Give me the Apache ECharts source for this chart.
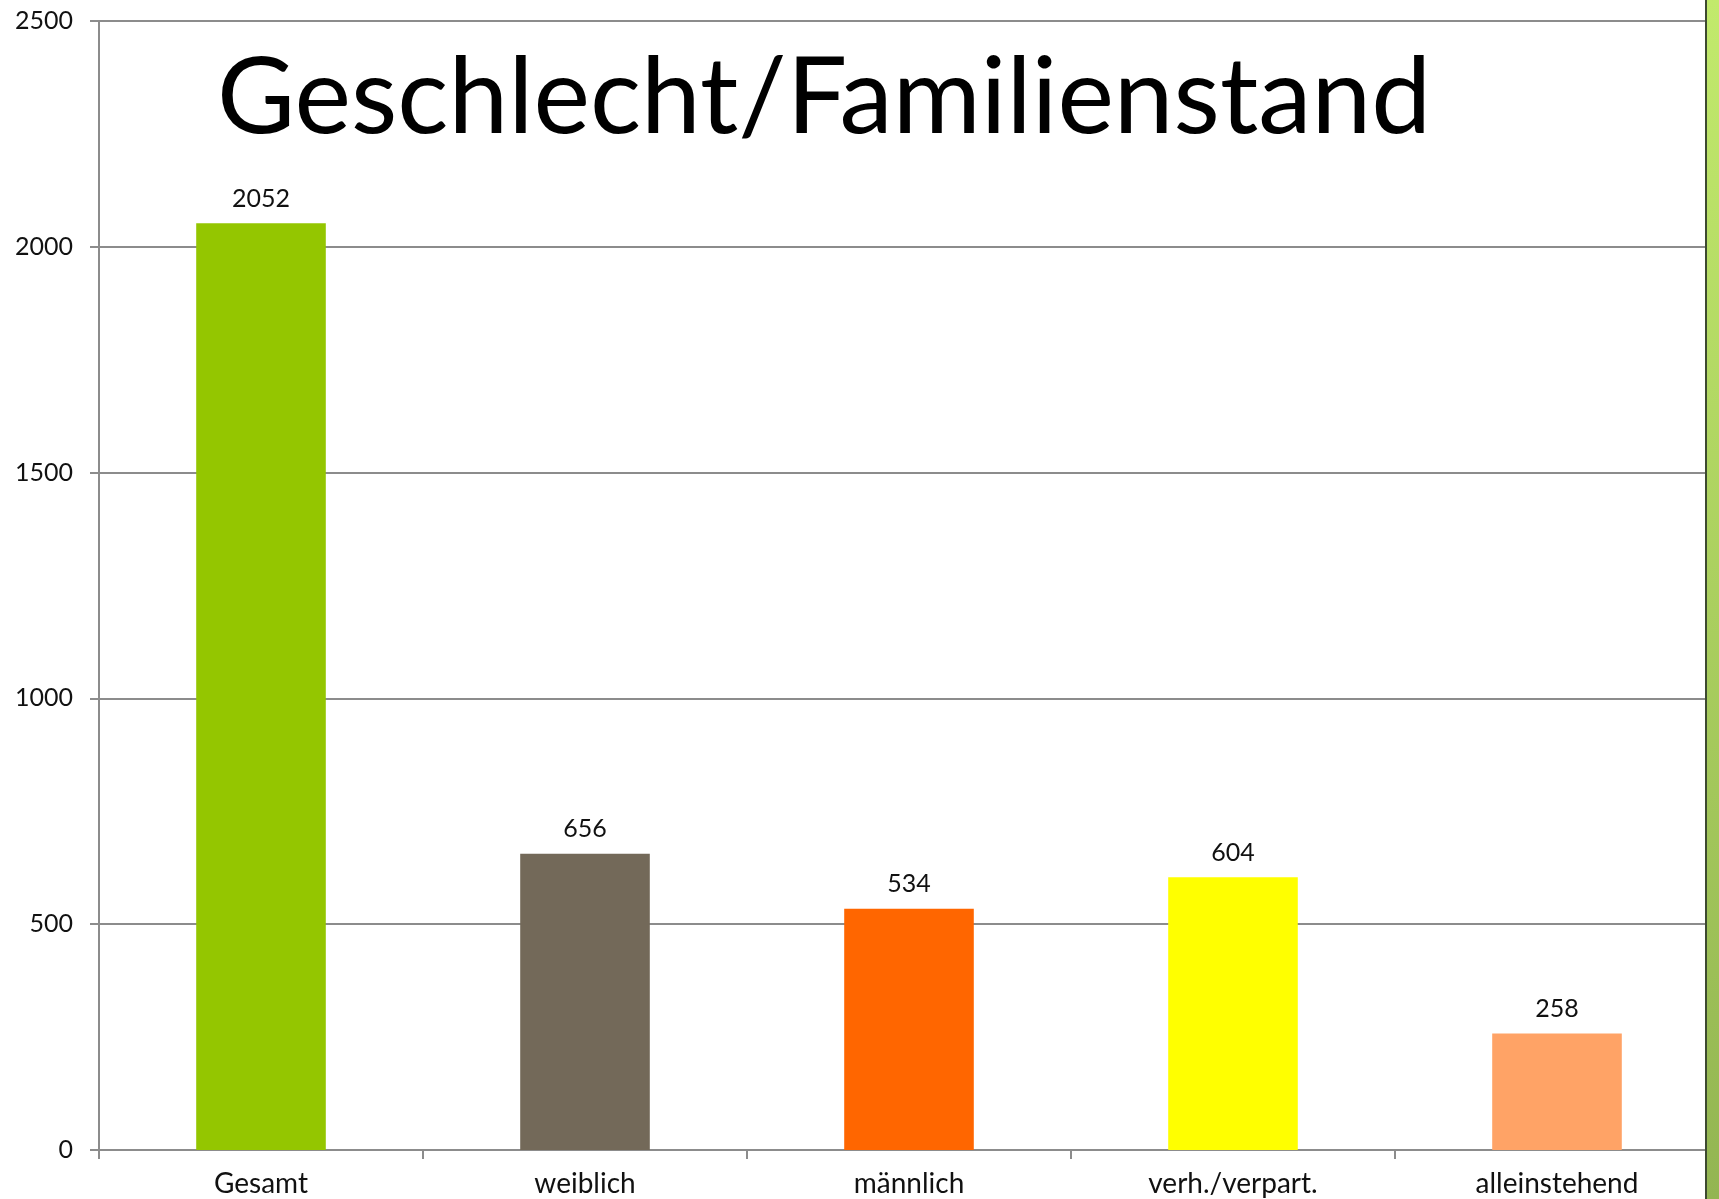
<!DOCTYPE html>
<html>
<head>
<meta charset="utf-8">
<style>html,body{margin:0;padding:0;background:#fff;}#c{width:1719px;height:1199px;}</style>
<script src="https://cdn.jsdelivr.net/npm/echarts@6/dist/echarts.min.js"></script>
</head>
<body>
<div id="c"></div>
<script>
const categories = ['Gesamt', 'weiblich', 'männlich', 'verh./verpart.', 'alleinstehend'];
const values = [2052, 656, 534, 604, 258];
const barColors = ['#94c600', '#736959', '#ff6600', '#ffff00', '#ffa366'];
const titleText = 'Geschlecht/Familienstand';

const FONT = 'Lato, "DejaVu Sans", sans-serif';
const chart = echarts.init(document.getElementById('c'));
chart.setOption({
  backgroundColor: '#ffffff',
  animation: false,
  title: {
    text: titleText,
    left: 212, top: 40,
    textStyle: { fontFamily: FONT, fontWeight: 'normal', fontSize: 107, color: '#000' }
  },
  grid: { left: 99, top: 21, width: 1624, bottom: 49, containLabel: false },
  xAxis: {
    type: 'category',
    data: categories,
    axisLine: { lineStyle: { color: '#8c8c8c', width: 2 } },
    axisTick: { show: true, length: 9, lineStyle: { color: '#8c8c8c', width: 2 } },
    axisLabel: { fontFamily: FONT, fontSize: 28, color: '#111', margin: 20 }
  },
  yAxis: {
    type: 'value', min: 0, max: 2500, interval: 500,
    axisLine: { show: true, lineStyle: { color: '#8c8c8c', width: 2 } },
    axisTick: { show: true, length: 9, lineStyle: { color: '#8c8c8c', width: 2 } },
    axisLabel: { fontFamily: FONT, fontSize: 25, color: '#111', margin: 26, formatter: v => String(v) },
    splitLine: { lineStyle: { color: '#8c8c8c', width: 2 } }
  },
  series: [{
    type: 'bar',
    data: values.map((v, i) => ({ value: v, itemStyle: { color: barColors[i] } })),
    barWidth: '40%',
    label: { show: true, position: 'top', distance: 12, fontFamily: FONT, fontSize: 25, color: '#111' }
  }],
  graphic: [
    { type: 'rect', z: 100, shape: { x: 1705, y: 0, width: 2, height: 1199 }, style: { fill: '#3d4a30' } },
    { type: 'rect', z: 100, shape: { x: 1707, y: 0, width: 12, height: 1199 },
      style: { fill: new echarts.graphic.LinearGradient(0, 0, 0, 1, [
        { offset: 0, color: '#c2ea6c' }, { offset: 1, color: '#93b552' }]) } }
  ]
});
</script>
</body>
</html>
